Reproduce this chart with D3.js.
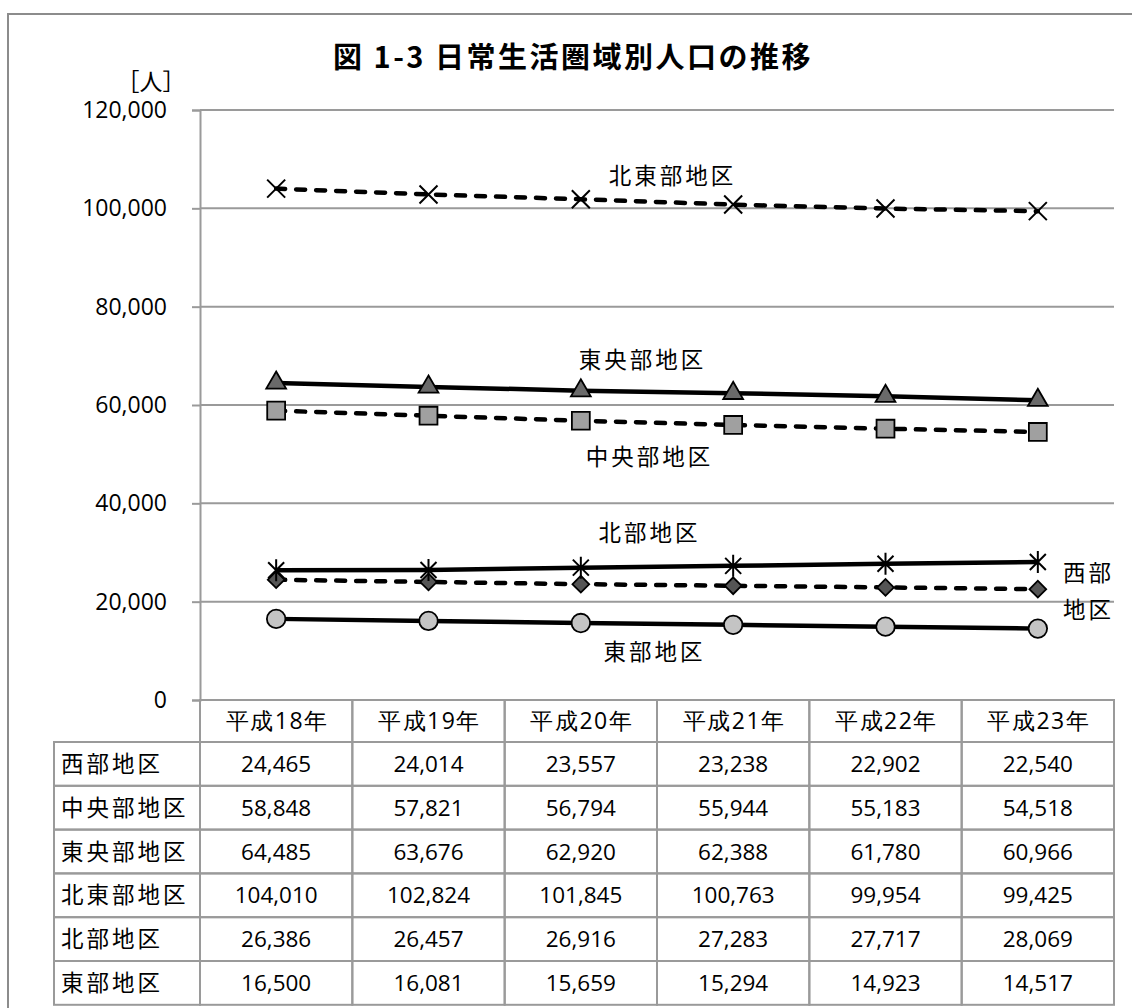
<!DOCTYPE html>
<html><head><meta charset="utf-8">
<script src="https://cdn.jsdelivr.net/npm/d3@7"></script>
<style>
body{margin:0;background:#fff;}
svg{display:block;font-family:"Open Sans","Noto Sans CJK JP",sans-serif;}
</style></head>
<body>
<svg id="chart" width="1132" height="1008"></svg>
<script>
const title = "図 1-3  日常生活圏域別人口の推移";
const unitLabel = "［人］";
const years = ["平成18年","平成19年","平成20年","平成21年","平成22年","平成23年"];
const seriesNames = ["西部地区","中央部地区","東央部地区","北東部地区","北部地区","東部地区"];
const west = [24465,24014,23557,23238,22902,22540];
const central = [58848,57821,56794,55944,55183,54518];
const eastCentral = [64485,63676,62920,62388,61780,60966];
const northEast = [104010,102824,101845,100763,99954,99425];
const north = [26386,26457,26916,27283,27717,28069];
const east = [16500,16081,15659,15294,14923,14517];
const yTicks = [0,20000,40000,60000,80000,100000,120000];

const seriesValues = [west, central, eastCentral, northEast, north, east];

const svg = d3.select("#chart");
const L = 200, R = 1114, T = 110, B = 700;
const x = d3.scaleBand().domain(years).range([L, R]);
const y = d3.scaleLinear().domain([0,120000]).range([B, T]);
const cx = d => x(d) + x.bandwidth()/2;
const gridColor = "#9a9a9a";
const JP = "'Noto Sans CJK JP',sans-serif";
const NUM = "'Open Sans',sans-serif";

// outer frame
svg.append("rect").attr("x",8).attr("y",14).attr("width",1140).attr("height",1010)
  .attr("fill","none").attr("stroke","#8c8c8c").attr("stroke-width",2);

// title
svg.append("text").attr("x",573).attr("y",58).attr("dy","0.36em").attr("text-anchor","middle")
  .attr("font-family",JP).attr("font-weight","bold")
  .attr("font-size",29).attr("letter-spacing",2.5).text(title);
svg.append("text").attr("x",151).attr("y",82).attr("dy","0.36em").attr("text-anchor","middle")
  .attr("font-family",JP).attr("font-size",23).text(unitLabel);

// gridlines
svg.append("g").selectAll("line").data(yTicks.filter(v=>v>0)).join("line")
  .attr("x1",L).attr("x2",R).attr("y1",d=>y(d)).attr("y2",d=>y(d))
  .attr("stroke",gridColor).attr("stroke-width",2);

// y axis
const yAxis = svg.append("g").attr("transform",`translate(${L},0)`)
  .call(d3.axisLeft(y).tickValues(yTicks).tickFormat(d3.format(",")).tickSize(8).tickPadding(25));
yAxis.select(".domain").attr("stroke",gridColor).attr("stroke-width",2);
yAxis.selectAll(".tick line").attr("stroke",gridColor).attr("stroke-width",2);
yAxis.selectAll(".tick text").attr("font-size",23).attr("fill","#000")
  .attr("font-family",NUM);

// table
const rowH = 43.8, headTop = B, headH = 42, tableLeft = 54;
const tb = svg.append("g");
years.forEach(yr=>{
  tb.append("rect").attr("x",x(yr)).attr("y",headTop).attr("width",x.bandwidth()).attr("height",headH)
    .attr("fill","none").attr("stroke",gridColor).attr("stroke-width",2);
  tb.append("text").attr("x",cx(yr)+1).attr("y",headTop+headH/2).attr("dy","0.36em")
    .attr("text-anchor","middle").attr("font-size",23).attr("letter-spacing",1.5)
    .attr("font-family",NUM).text(yr);
});
const fmt = d3.format(",");
seriesNames.forEach((nm,i)=>{
  const ry = headTop + headH + i*rowH;
  tb.append("rect").attr("x",tableLeft).attr("y",ry).attr("width",L-tableLeft).attr("height",rowH)
    .attr("fill","none").attr("stroke",gridColor).attr("stroke-width",2);
  tb.append("text").attr("x",tableLeft+7).attr("y",ry+rowH/2).attr("dy","0.36em")
    .attr("font-size",22.5).attr("letter-spacing",3).attr("font-family",JP).text(nm);
  years.forEach((yr,j)=>{
    tb.append("rect").attr("x",x(yr)).attr("y",ry).attr("width",x.bandwidth()).attr("height",rowH)
      .attr("fill","none").attr("stroke",gridColor).attr("stroke-width",2);
    tb.append("text").attr("x",cx(yr)).attr("y",ry+rowH/2).attr("dy","0.36em")
      .attr("text-anchor","middle").attr("font-size",22.5)
      .attr("font-family",NUM).text(fmt(seriesValues[i][j]));
  });
});

// series
const styles = {
  "西部地区":   {dash:true,  marker:"diamond",  fill:"#555555"},
  "中央部地区": {dash:true,  marker:"square",   fill:"#a0a0a0"},
  "東央部地区": {dash:false, marker:"triangle", fill:"#6a6a6a"},
  "北東部地区": {dash:true,  marker:"x",        fill:"none"},
  "北部地区":   {dash:false, marker:"star",     fill:"none"},
  "東部地区":   {dash:false, marker:"circle",   fill:"#c4c4c4"}
};
const line = d3.line().x(d=>cx(d.year)).y(d=>y(d.v));
const markerPath = {
  diamond: d3.symbol(d3.symbolSquare, 140)(),
  square: d3.symbol(d3.symbolSquare, 320)(),
  triangle: d3.symbol(d3.symbolTriangle, 170)(),
  circle: d3.symbol(d3.symbolCircle, 270)(),
  x: "M-9,-9L9,9M-9,9L9,-9",
  star: "M-8,-8L8,8M-8,8L8,-8M0,-11L0,11"
};
seriesNames.forEach((nm,i)=>{
  const st = styles[nm];
  const data = years.map((yr,j)=>({year:yr, v:seriesValues[i][j]}));
  svg.append("path").datum(data).attr("d",line).attr("fill","none")
    .attr("stroke","#000").attr("stroke-width",4.5)
    .attr("stroke-linecap", st.dash ? "round" : "butt")
    .attr("stroke-dasharray", st.dash ? "9,11" : null);
});
seriesNames.forEach((nm,i)=>{
  const st = styles[nm];
  const data = years.map((yr,j)=>({year:yr, v:seriesValues[i][j]}));
  svg.append("g").selectAll("path").data(data).join("path")
    .attr("transform",d=>`translate(${cx(d.year)},${y(d.v)})` + (st.marker==="diamond"?" rotate(45)":""))
    .attr("d",markerPath[st.marker])
    .attr("fill",st.fill).attr("stroke","#000")
    .attr("stroke-width",(st.marker==="x"||st.marker==="star")?2:1.8);
});

// series labels
const labels = [
  {t:"北東部地区", x:671, y:176},
  {t:"東央部地区", x:641, y:360},
  {t:"中央部地区", x:648, y:457},
  {t:"北部地区",   x:648, y:533},
  {t:"西部",       x:1087, y:573},
  {t:"地区",       x:1087, y:610},
  {t:"東部地区",   x:653, y:652}
];
svg.append("g").selectAll("text").data(labels).join("text")
  .attr("x",d=>d.x+1.5).attr("y",d=>d.y).attr("dy","0.36em").attr("text-anchor","middle")
  .attr("font-size",22.5).attr("letter-spacing",3).attr("font-family",JP).text(d=>d.t);
</script>
</body></html>
